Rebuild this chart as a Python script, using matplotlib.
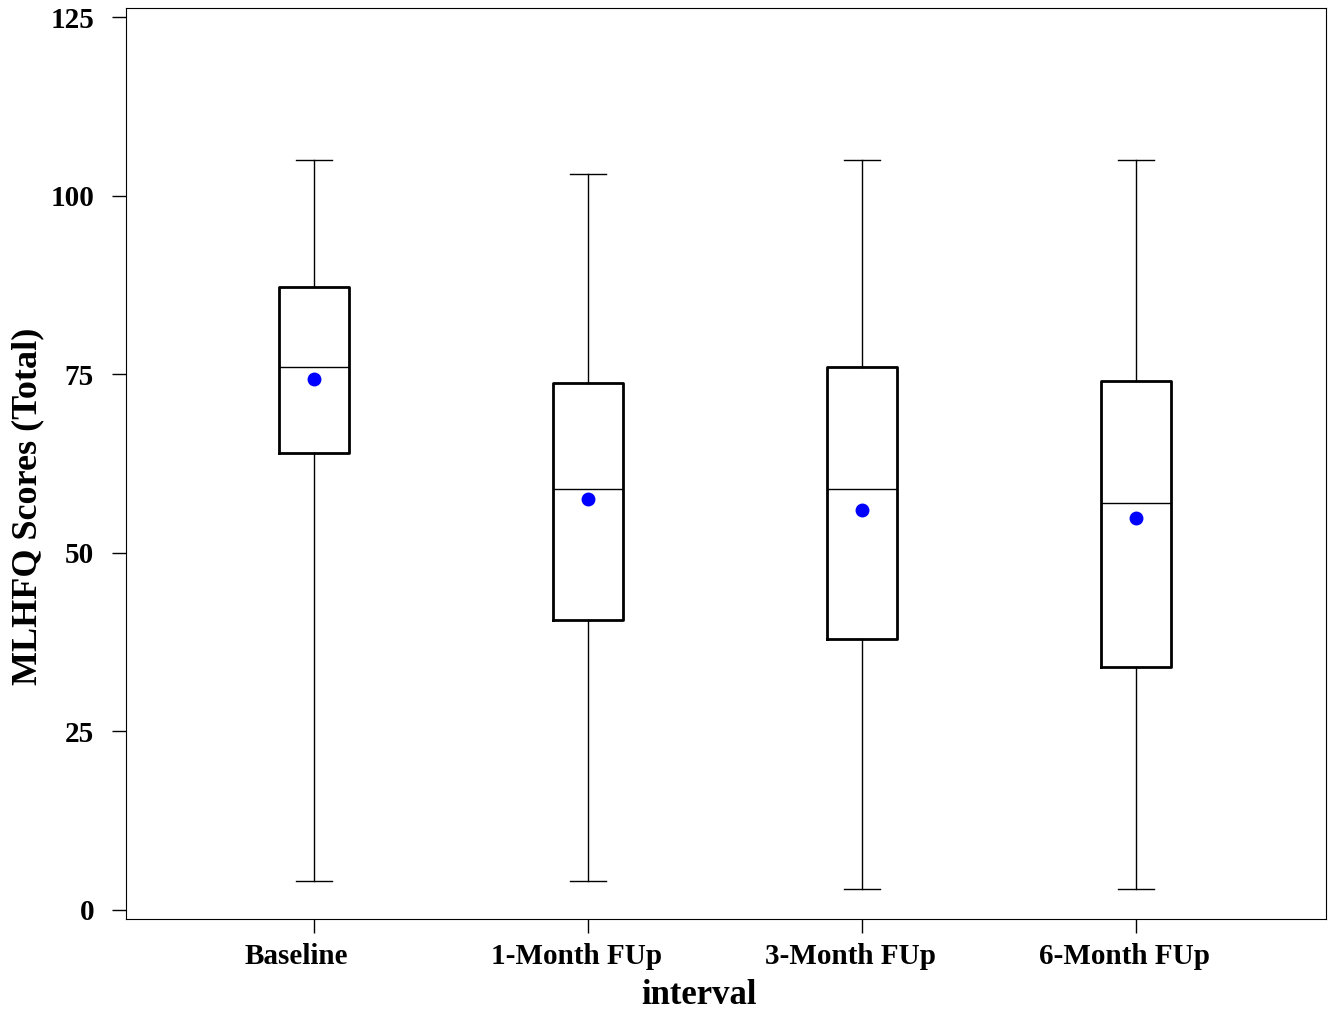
import matplotlib.pyplot as plt
import matplotlib.transforms as mtransforms

plt.rcParams['font.family'] = ['Liberation Serif', 'DejaVu Serif']
plt.rcParams['font.weight'] = 'bold'

intervals = ['Baseline', '1-Month FUp', '3-Month FUp', '6-Month FUp']
whislo = [4, 4, 3, 3]
q1 = [64, 40.6, 38, 34]
med = [76, 59, 59, 57]
q3 = [87.2, 73.8, 76, 74]
whishi = [105, 103, 105, 105]
means = [74.3, 57.5, 56, 54.9]

stats = []
for i in range(len(intervals)):
    stats.append(dict(label=intervals[i], whislo=whislo[i], q1=q1[i], med=med[i],
                      q3=q3[i], whishi=whishi[i], mean=means[i], fliers=[]))

fig = plt.figure(figsize=(13.36, 10.11), dpi=100)
ax = fig.add_axes([0.0943, 0.091, 0.8982, 0.901])

pos = [1, 2, 3, 4]
ax.bxp(stats, positions=pos, widths=0.255, showmeans=True, showfliers=False,
       boxprops=dict(color='black', linewidth=2),
       whiskerprops=dict(color='black', linewidth=1),
       capprops=dict(color='black', linewidth=1),
       medianprops=dict(color='black', linewidth=1),
       meanprops=dict(marker='o', markerfacecolor='blue', markeredgecolor='blue', markersize=9),
       capwidths=0.13)

ax.set_xlim(0.314, 4.693)
ax.set_ylim(-1.26, 126.26)
ax.set_yticks([0, 25, 50, 75, 100, 125])
ax.set_xticks(pos)
ax.set_xticklabels(intervals)
ax.tick_params(axis='both', labelsize=21, length=10, width=1)
ax.tick_params(axis='y', pad=13)
ax.tick_params(axis='x', pad=7)

# labels in the original sit a little left of their ticks
shifts = [-0.18, -0.12, -0.12, -0.12]
for lab, s in zip(ax.get_xticklabels(), shifts):
    lab.set_transform(lab.get_transform() + mtransforms.ScaledTranslation(s, 0, fig.dpi_scale_trans))
    lab.set_fontweight('bold')
for lab in ax.get_yticklabels():
    lab.set_fontweight('bold')

ax.set_xlabel('interval', fontsize=25, fontweight='bold')
ax.set_ylabel('MLHFQ Scores (Total)', fontsize=26, fontweight='bold')
ax.xaxis.set_label_coords(0.4775, -0.066)
ax.yaxis.set_label_coords(-0.068, 0.453)

fig.savefig('out.png', dpi=100)
